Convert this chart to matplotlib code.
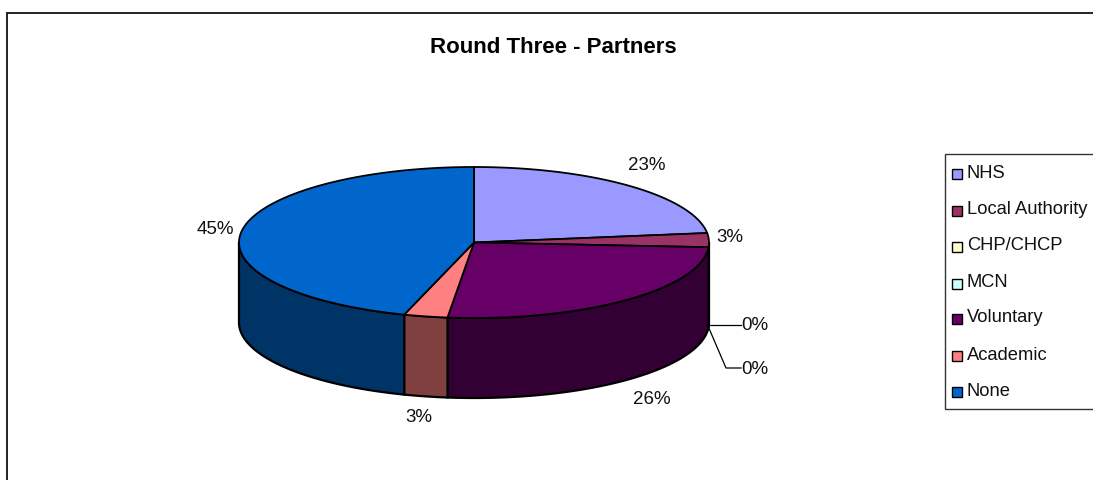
import numpy as np
import matplotlib
matplotlib.use("Agg")
import matplotlib.pyplot as plt
from matplotlib.patches import Polygon, Rectangle

plt.rcParams['font.family'] = ['Liberation Sans', 'DejaVu Sans']

# Data
categories = ["NHS", "Local Authority", "CHP/CHCP", "MCN", "Voluntary", "Academic", "None"]
shares = [23, 3, 0, 0, 25.8, 3, 45.2]
top_colors = ["#9999FF", "#993366", "#FFFFCC", "#CCFFFF", "#660066", "#FF8080", "#0066CC"]
side_colors = ["#4C4C80", "#4D1933", "#808066", "#668080", "#330033", "#804040", "#003366"]
chart_title = "Round Three - Partners"

# Layout, in pixels of the 1093x480 image
cx, cy = 474, 242.5
rx, ry = 235, 75.5
depth = 80
W, H = 1093, 480


def ellipse_points(a0, a1, yc):
    # angles in degrees, counter clockwise from the right hand side
    n = max(int(abs(a1 - a0)) * 2, 2)
    t = np.radians(np.linspace(a0, a1, n))
    return np.column_stack([cx + rx * np.cos(t), yc - ry * np.sin(t)])


fig = plt.figure(figsize=(W / 100, H / 100), dpi=100)
ax = fig.add_axes([0, 0, 1, 1])
ax.set_xlim(0, W)
ax.set_ylim(H, 0)
ax.axis("off")

# chart frame, runs off the image on the right and at the bottom
ax.plot([6.5, 6.5, W], [H, 12.5, 12.5], color="#111111", lw=1.3, solid_joinstyle="miter")

# slice angles, clockwise from 12 o'clock
ends = 90 - np.cumsum(shares) * 3.6
starts = np.concatenate([[90], ends[:-1]])

# side walls first, only the front half of the pie can be seen
for i in range(len(shares)):
    a0, a1 = starts[i], ends[i]
    # walk round the lower half: angle 0 to -180
    lo0 = min(a0, 0)
    lo1 = max(a1, -180)
    if lo0 <= lo1:
        continue
    top = ellipse_points(lo0, lo1, cy)
    bot = ellipse_points(lo1, lo0, cy + depth)
    ax.add_patch(Polygon(np.vstack([top, bot]), closed=True, facecolor=side_colors[i],
                         edgecolor="black", lw=1.6, zorder=2))

# top faces
for i in range(len(shares)):
    if shares[i] == 0:
        continue
    arc = ellipse_points(starts[i], ends[i], cy)
    ax.add_patch(Polygon(np.vstack([[cx, cy], arc]), closed=True, facecolor=top_colors[i],
                         edgecolor="black", lw=1.3, zorder=3))

# percent labels
label_xy = [(647, 165), (730, 237), (755, 326), (755, 370), (652, 399), (419, 417), (215, 229)]
for s, (lx, ly) in zip(shares, label_xy):
    ax.text(lx, ly, f"{round(s)}%", ha="center", va="center", fontsize=13.5, color="#111111", zorder=5)

# leader lines for the two empty slices
edge_y = cy + depth + 2.5
ax.plot([cx + rx - 1, 741], [edge_y, edge_y], color="black", lw=0.9, zorder=4)
ax.plot([cx + rx - 1, 726, 741], [edge_y + 1, 368, 368], color="black", lw=0.9, zorder=4)

# legend drawn by hand so the box sits where the original has it
ax.add_patch(Rectangle((944.5, 153.5), 160, 255, facecolor="white", edgecolor="#333333", lw=1.0, zorder=2))
legend_y = [173.5, 210, 246.5, 283, 318.5, 355.5, 391.5]
for name, col, y in zip(categories, top_colors, legend_y):
    ax.add_patch(Rectangle((951.5, y - 4.5), 10, 10, facecolor=col, edgecolor="black", lw=1.0, zorder=3))
    ax.text(967, y - 0.5, name, ha="left", va="center", fontsize=13.2, color="#111111", zorder=3)

ax.text(553.5, 47.5, chart_title, ha="center", va="center", fontsize=16, fontweight="bold", color="black")

fig.savefig("out.png", dpi=100)
